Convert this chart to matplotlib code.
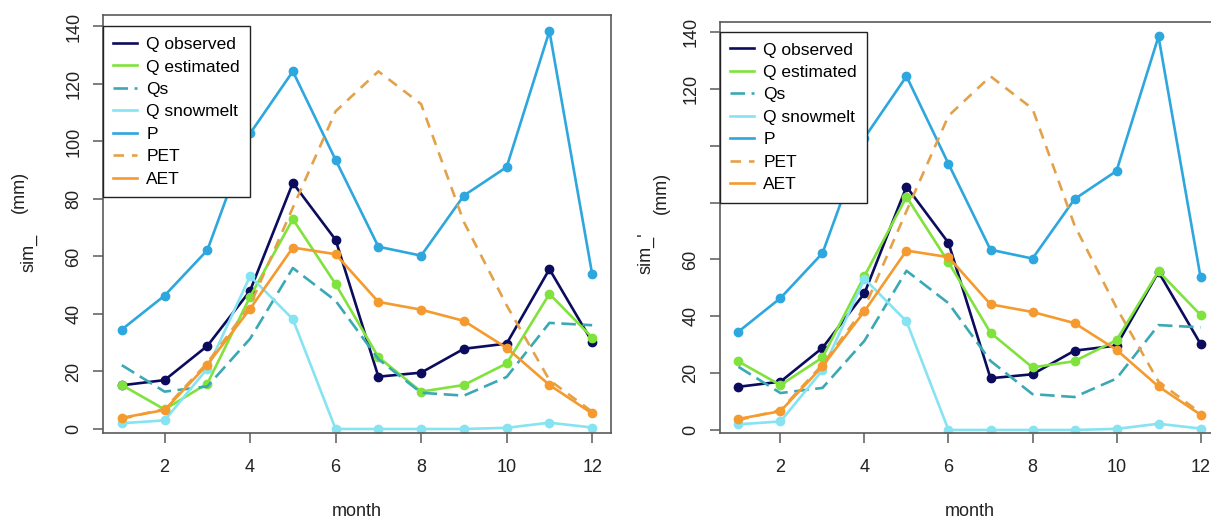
import matplotlib
matplotlib.use('Agg')
import matplotlib.pyplot as plt

months = list(range(1, 13))
q_obs = [15.2, 17.0, 28.9, 48.1, 85.6, 65.8, 18.2, 19.6, 27.9, 29.7, 55.6, 30.3]
q_est_left = [15.3, 6.8, 15.8, 46.0, 73.0, 50.4, 25.0, 13.0, 15.3, 22.8, 47.0, 31.8]
q_est_right = [24.1, 15.8, 25.5, 54.2, 82.0, 59.0, 34.2, 22.0, 24.2, 31.6, 55.8, 40.5]
qs = [22.2, 13.0, 14.8, 31.4, 56.0, 44.6, 24.3, 12.6, 11.6, 18.1, 36.9, 36.1]
q_snow = [2.0, 3.0, 21.0, 53.2, 38.2, 0.0, 0.0, 0.0, 0.0, 0.4, 2.2, 0.5]
p = [34.6, 46.4, 62.2, 102.8, 124.4, 93.6, 63.4, 60.3, 81.2, 91.1, 138.4, 53.8]
pet = [3.5, 7.0, 23.0, 43.0, 77.0, 110.5, 124.4, 113.0, 72.0, 43.0, 17.0, 6.0]
aet = [3.9, 6.6, 22.4, 41.8, 63.1, 60.8, 44.2, 41.5, 37.6, 28.2, 15.3, 5.4]

series_names = ["Q observed", "Q estimated", "Qs", "Q snowmelt", "P", "PET", "AET"]
x_ticks = [2, 4, 6, 8, 10, 12]
y_ticks = [0, 20, 40, 60, 80, 100, 120, 140]
y_labels_left = ["0", "20", "40", "60", "80", "100", "120", "140"]
y_labels_right = ["0", "20", "40", "60", "", "", "120", "140"]

plt.rcParams['font.family'] = ['Liberation Sans', 'DejaVu Sans']

W, H = 1211, 519
fig = plt.figure(figsize=(W / 100, H / 100), dpi=100)

colors = {
    "Q observed": "#0c0c5e",
    "Q estimated": "#80e23c",
    "Qs": "#3aa9b3",
    "Q snowmelt": "#86e3f2",
    "P": "#2ea6de",
    "PET": "#e3a24a",
    "AET": "#f59a2e",
}
edge = "#5a5a5a"
tcol = "#222222"


def px_axes(left, right, top, bottom):
    return [left / W, 1 - bottom / H, (right - left) / W, (bottom - top) / H]


def draw_panel(rect, q_est, ylim, ylabels, ylab_pos):
    ax = fig.add_axes(rect)
    lw = 1.9
    ms = 6
    ax.plot(months, q_obs, color=colors["Q observed"], lw=lw, marker='o', ms=ms, label="Q observed")
    ax.plot(months, q_est, color=colors["Q estimated"], lw=lw, marker='o', ms=ms, label="Q estimated")
    ax.plot(months, qs, color=colors["Qs"], lw=lw, dashes=(5.5, 2.5), label="Qs")
    ax.plot(months, q_snow, color=colors["Q snowmelt"], lw=lw, marker='o', ms=ms, label="Q snowmelt")
    ax.plot(months, p, color=colors["P"], lw=lw, marker='o', ms=ms, label="P")
    ax.plot(months, pet, color=colors["PET"], lw=lw, dashes=(4, 3), label="PET")
    ax.plot(months, aet, color=colors["AET"], lw=lw, marker='o', ms=ms, label="AET")
    ax.set_xlim(0.56, 12.44)
    ax.set_ylim(*ylim)
    ax.set_xticks(x_ticks)
    ax.set_xticklabels([str(v) for v in x_ticks])
    ax.set_yticks(y_ticks)
    ax.set_yticklabels(ylabels, rotation=90, va='center')
    for s in ax.spines.values():
        s.set_color(edge)
        s.set_linewidth(1.2)
    ax.tick_params(axis='both', direction='out', length=7, width=1.1, color=edge,
                   labelsize=13, labelcolor=tcol)
    ax.tick_params(axis='x', pad=12)
    ax.tick_params(axis='y', pad=8)
    ax.set_xlabel("month", fontsize=13, color=tcol)
    ax.xaxis.label.set_va('center')
    hpx = rect[3] * H
    ax.xaxis.set_label_coords(0.5, -(511 - (H - rect[1] * H)) / hpx)
    y140 = (140 - ylim[0]) / (ylim[1] - ylim[0])
    leg = ax.legend(loc='upper left', bbox_to_anchor=(0, y140), borderaxespad=0,
                    fontsize=12.5, handlelength=1.35, handletextpad=0.55,
                    labelspacing=0.42, borderpad=0.6, frameon=True, fancybox=False,
                    framealpha=1, edgecolor='#222222')
    leg.get_frame().set_linewidth(1.0)
    for h in leg.legend_handles:
        h.set_marker('')
    for (txt, x, y) in ylab_pos:
        fig.text(x / W, 1 - y / H, txt, rotation=90, ha='center', va='center',
                 fontsize=13, color=tcol)
    return ax


draw_panel(px_axes(103, 611, 15, 432.7), q_est_left, (-1.29, 144.0), y_labels_left,
           [("(mm)", 19, 192), ("sim_", 29, 253)])
draw_panel(px_axes(720, 1219, 21.7, 432.7), q_est_right, (-0.95, 143.6), y_labels_right,
           [("(mm)", 661, 193), ("sim_'", 646, 253)])

fig.savefig("out.png", dpi=100)
